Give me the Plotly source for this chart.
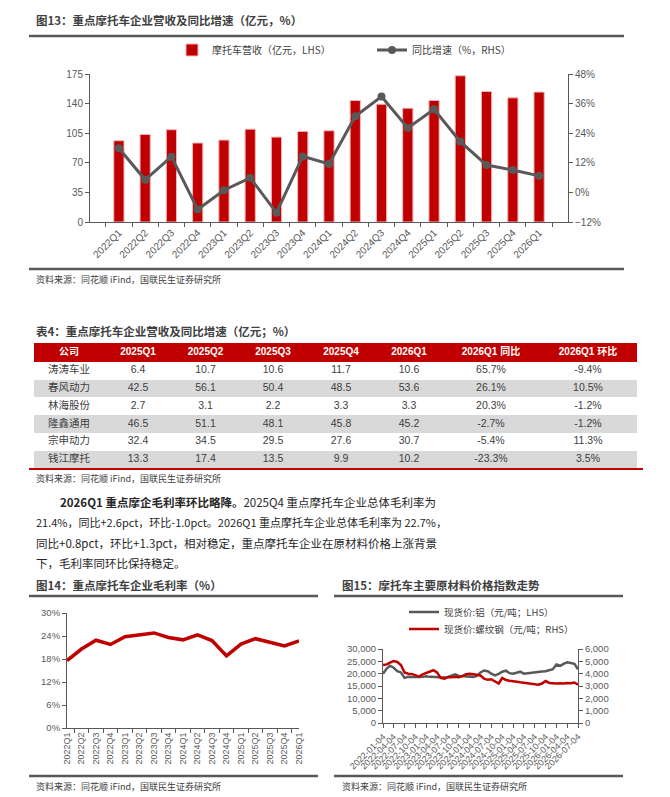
import plotly.graph_objects as go
import pandas as pd

W, H = 670, 797
def X(px): return px / W
def Y(py): return 1 - py / H

# ---------------- data ----------------
quarters = ["2022Q1", "2022Q2", "2022Q3", "2022Q4", "2023Q1", "2023Q2", "2023Q3", "2023Q4",
            "2024Q1", "2024Q2", "2024Q3", "2024Q4", "2025Q1", "2025Q2", "2025Q3", "2025Q4", "2026Q1"]
revenue = [96.1, 103.6, 109.1, 93.4, 96.9, 109.8, 100.4, 107.1,
           107.9, 143.6, 139.3, 134.6, 143.8, 172.9, 154.3, 146.8, 153.6]
yoy = [17.9, 5.1, 14.5, -6.9, 0.9, 5.9, -8.2, 14.6,
       11.5, 30.9, 38.9, 26.1, 33.7, 20.6, 11.1, 9.1, 6.7]

gross_margin = [17.6, 20.6, 22.9, 21.8, 23.8, 24.3, 24.8, 23.6,
                23.0, 24.3, 22.8, 18.8, 21.9, 23.3, 22.4, 21.4, 22.7]

table_header = ["公司", "2025Q1", "2025Q2", "2025Q3", "2025Q4", "2026Q1", "2026Q1 同比", "2026Q1 环比"]
companies = ["涛涛车业", "春风动力", "林海股份", "隆鑫通用", "宗申动力", "钱江摩托"]
rev_2025q1 = ["6.4", "42.5", "2.7", "46.5", "32.4", "13.3"]
rev_2025q2 = ["10.7", "56.1", "3.1", "51.1", "34.5", "17.4"]
rev_2025q3 = ["10.6", "50.4", "2.2", "48.1", "29.5", "13.5"]
rev_2025q4 = ["11.7", "48.5", "3.3", "45.8", "27.6", "9.9"]
rev_2026q1 = ["10.6", "53.6", "3.3", "45.2", "30.7", "10.2"]
yoy_2026q1 = ["65.7%", "26.1%", "20.3%", "-2.7%", "-5.4%", "-23.3%"]
qoq_2026q1 = ["-9.4%", "10.5%", "-1.2%", "-1.2%", "11.3%", "3.5%"]

price_dates = pd.date_range("2022-01-01", periods=55, freq="MS") + pd.Timedelta(days=3)
aluminum = [19950, 22100, 23200, 22400, 21000, 20500, 18300, 18700, 18600, 18500, 18600, 18700,
            18900, 18700, 18600, 18700, 18400, 18400, 18700, 19100, 19700, 19100, 19000, 19000,
            18900, 18700, 19100, 20500, 21300, 21000, 20000, 19300, 19950, 20800, 21200, 20200,
            20000, 20500, 20800, 20000, 20200, 20500, 20600, 20800, 20900, 21000, 21300, 21800,
            23700, 23200, 24000, 24600, 24300, 24000, 21800]
rebar = [4700, 4750, 4900, 5030, 4950, 4700, 4100, 4000, 3980, 3900, 3760, 3950,
         4050, 4150, 4280, 4100, 3650, 3600, 3700, 3700, 3750, 3720, 3800, 3950,
         4000, 3950, 3900, 3850, 3600, 3500, 3550, 3350, 3200, 3650, 3480, 3420,
         3400, 3350, 3300, 3250, 3200, 3150, 3120, 3100, 3200, 3400, 3250, 3200,
         3200, 3220, 3200, 3250, 3220, 3280, 3100]
tick_dates = list(price_dates[::3])

# ---------------- style ----------------
RED = "#C00000"
GREY = "#595959"
TXT = "#404040"
CJK = "Noto Sans CJK SC"
NUM = "Liberation Sans, Noto Sans CJK SC"

fig = go.Figure()

# Top chart: revenue bars + yoy line
fig.add_trace(go.Bar(x=quarters, y=revenue, name="摩托车营收（亿元，LHS）",
                     marker=dict(color=RED, line=dict(color="#F0B8B8", width=1)),
                     width=0.39, xaxis="x", yaxis="y", legend="legend", hoverinfo="skip"))
fig.add_trace(go.Scatter(x=quarters, y=yoy, name="同比增速（%，RHS）", mode="lines+markers",
                         line=dict(color=GREY, width=3), marker=dict(size=8, color=GREY),
                         xaxis="x", yaxis="y2", legend="legend"))

# Chart 14: gross margin
fig.add_trace(go.Scatter(x=quarters, y=gross_margin, mode="lines", showlegend=False,
                         line=dict(color=RED, width=3.5), xaxis="x2", yaxis="y3"))

# Chart 15: raw material prices
fig.add_trace(go.Scatter(x=price_dates, y=aluminum, mode="lines", name="现货价:铝（元/吨；LHS）",
                         line=dict(color=GREY, width=2.5), xaxis="x3", yaxis="y4", legend="legend2"))
fig.add_trace(go.Scatter(x=price_dates, y=rebar, mode="lines", name="现货价:螺纹钢（元/吨；RHS）",
                         line=dict(color=RED, width=2.5), xaxis="x3", yaxis="y5", legend="legend3"))

# Table drawn on its own axes: heatmap for cell fills, text scatter for contents
col_widths = [70, 68, 67, 68, 68, 68, 96, 98]
col_edges = [0]
for w in col_widths:
    col_edges.append(col_edges[-1] + w)
col_centers = [(col_edges[i] + col_edges[i + 1]) / 2 for i in range(len(col_widths))]
HEAD_H, ROW_H = 19, 17.7
row_edges = [0, HEAD_H] + [HEAD_H + ROW_H * (i + 1) for i in range(len(companies))]
row_centers = [(row_edges[i] + row_edges[i + 1]) / 2 for i in range(len(row_edges) - 1)]
fill_codes = [[2] * len(col_widths)] + [[(i % 2)] * len(col_widths) for i in range(len(companies))]
fig.add_trace(go.Heatmap(x=col_edges, y=row_edges, z=fill_codes, zmin=0, zmax=2, showscale=False,
                         colorscale=[[0, "white"], [0.33, "white"], [0.33, "#D9D9D9"], [0.66, "#D9D9D9"],
                                     [0.66, RED], [1, RED]],
                         xaxis="x4", yaxis="y6", hoverinfo="skip"))
fig.add_trace(go.Scatter(x=col_centers, y=[row_centers[0]] * len(col_centers), mode="text",
                         text=["<b>%s</b>" % h for h in table_header], showlegend=False,
                         textfont=dict(color="white", size=10, family=NUM), xaxis="x4", yaxis="y6",
                         hoverinfo="skip"))
table_cols = [companies, rev_2025q1, rev_2025q2, rev_2025q3, rev_2025q4, rev_2026q1, yoy_2026q1, qoq_2026q1]
for ci, col in enumerate(table_cols):
    fig.add_trace(go.Scatter(x=[col_centers[ci]] * len(col), y=row_centers[1:], mode="text", text=col,
                             showlegend=False, textfont=dict(color=TXT, size=10.5, family=NUM),
                             xaxis="x4", yaxis="y6", hoverinfo="skip"))

axis_common = dict(showgrid=False, zeroline=False, showline=True, linecolor=GREY, linewidth=1,
                   ticks="outside", tickcolor=GREY, ticklen=4, automargin=False,
                   tickfont=dict(size=10, color=GREY, family=NUM))
small = dict(size=9.5, color=GREY, family=NUM)

fig.update_layout(
    template="none",
    width=W, height=H, margin=dict(l=0, r=0, t=0, b=0, pad=0, autoexpand=False),
    paper_bgcolor="white", plot_bgcolor="rgba(0,0,0,0)",
    font=dict(family=CJK, color=TXT),
    showlegend=True,
    xaxis=dict(domain=[X(90), X(568)], anchor="y", type="category", tickson="boundaries",
               tickangle=-45, **axis_common),
    yaxis=dict(domain=[Y(222), Y(74)], anchor="x", range=[0, 175], dtick=35, **axis_common),
    yaxis2=dict(overlaying="y", side="right", anchor="x", range=[-12, 48], dtick=12,
                ticksuffix="%", **axis_common),
    xaxis2=dict(domain=[X(67), X(299)], anchor="y3", type="category", tickson="boundaries",
                tickangle=-90, **{**axis_common, "tickfont": dict(size=9, color=GREY, family=NUM)}),
    yaxis3=dict(domain=[Y(728), Y(613)], anchor="x2", range=[0, 30], dtick=6, ticksuffix="%",
                **{**axis_common, "tickfont": small}),
    xaxis3=dict(domain=[X(383), X(578)], anchor="y4", type="date",
                range=[price_dates[0], price_dates[-1]],
                tickvals=tick_dates, ticktext=[d.strftime("%Y-%m-%d") for d in tick_dates],
                tickangle=-45, **{**axis_common, "tickfont": dict(size=9, color=GREY, family=NUM)}),
    yaxis4=dict(domain=[Y(723), Y(649)], anchor="x3", range=[0, 30000], dtick=5000,
                tickformat=",d", **{**axis_common, "tickfont": small}),
    yaxis5=dict(overlaying="y4", side="right", anchor="x3", range=[0, 6000], dtick=1000,
                tickformat=",d", **{**axis_common, "tickfont": small}),
    xaxis4=dict(domain=[X(34), X(637)], anchor="y6", range=[0, col_edges[-1]], visible=False,
                fixedrange=True),
    yaxis6=dict(domain=[Y(343 + row_edges[-1]), Y(343)], anchor="x4", range=[row_edges[-1], 0],
                visible=False, fixedrange=True),
    legend=dict(orientation="h", x=X(172), y=Y(50), xanchor="left", yanchor="middle",
                entrywidth=155, entrywidthmode="pixels", bgcolor="rgba(0,0,0,0)",
                font=dict(size=10, color=TXT, family=CJK), itemclick=False),
    legend2=dict(orientation="v", x=X(404), y=Y(612), xanchor="left", yanchor="middle",
                 bgcolor="rgba(0,0,0,0)", font=dict(size=9.5, color=TXT, family=CJK)),
    legend3=dict(orientation="v", x=X(404), y=Y(629), xanchor="left", yanchor="middle",
                 bgcolor="rgba(0,0,0,0)", font=dict(size=9.5, color=TXT, family=CJK)),
)

# grey rules
rules = [(29, 624, 36), (29, 624, 269), (29, 318, 596), (334, 623, 596), (29, 318, 776), (334, 623, 776)]
shapes = [dict(type="line", xref="paper", yref="paper", x0=X(a), x1=X(b), y0=Y(c), y1=Y(c),
               line=dict(color=GREY, width=2.5)) for a, b, c in rules]
shapes.append(dict(type="line", xref="paper", yref="paper", x0=X(29), x1=X(643), y0=Y(469), y1=Y(469),
                   line=dict(color=RED, width=2)))
fig.update_layout(shapes=shapes)

def note(px, py, text, size, bold=False, color=TXT):
    fig.add_annotation(xref="paper", yref="paper", x=X(px), y=Y(py), text=("<b>%s</b>" % text) if bold else text,
                       showarrow=False, xanchor="left", yanchor="middle",
                       font=dict(size=size, color=color, family=CJK))

src = "资料来源：同花顺 iFind，国联民生证券研究所"
note(34, 20, "图13：重点摩托车企业营收及同比增速（亿元，%）", 11.5, bold=True)
note(34, 279, src, 9)
note(34, 331, "表4：重点摩托车企业营收及同比增速（亿元；%）", 11.5, bold=True)
note(34, 478, src, 9)
PC = "#262626"
note(58, 502, "<b>2026Q1 重点摩企毛利率环比略降。</b>2025Q4 重点摩托车企业总体毛利率为", 11.5, color=PC)
note(34, 522, "21.4%，同比+2.6pct，环比-1.0pct。2026Q1 重点摩托车企业总体毛利率为 22.7%，", 11, color=PC)
note(34, 543, "同比+0.8pct，环比+1.3pct，相对稳定，重点摩托车企业在原材料价格上涨背景", 11.5, color=PC)
note(34, 563, "下，毛利率同环比保持稳定。", 11.5, color=PC)
note(34, 585, "图14：重点摩托车企业毛利率（%）", 11.5, bold=True)
note(340, 585, "图15：摩托车主要原材料价格指数走势", 11.5, bold=True)
note(34, 786, src, 9)
note(340, 786, src, 9)

fig.write_html("out.html", config={"displayModeBar": False},
               post_script="document.body.style.margin='0px';document.body.style.overflow='hidden';")
